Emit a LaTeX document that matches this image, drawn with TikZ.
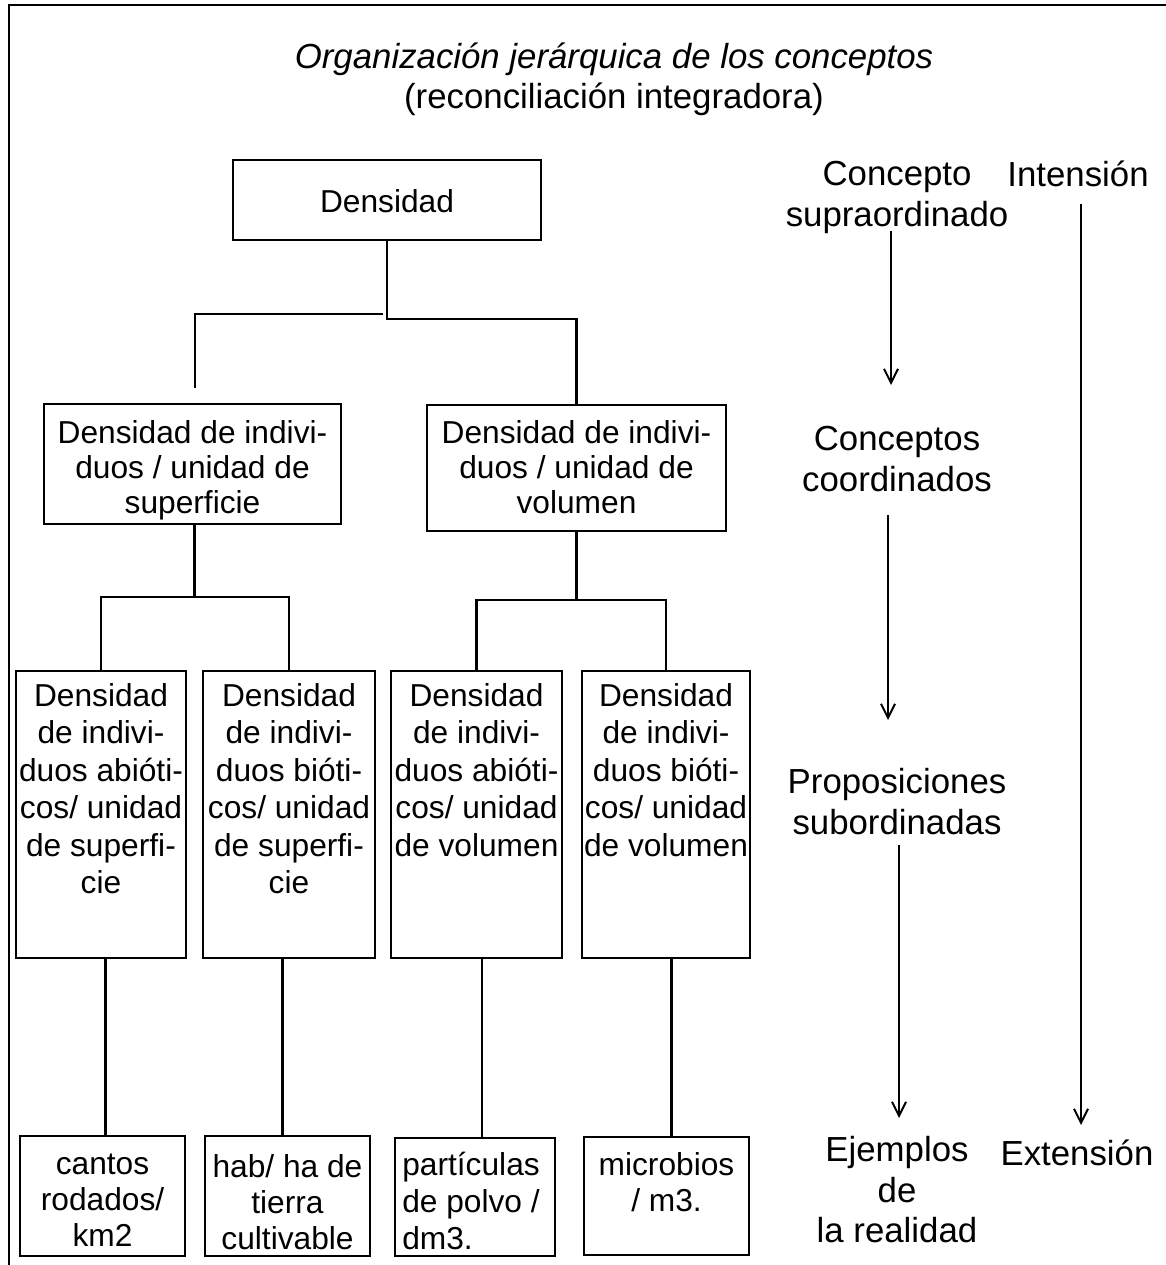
\documentclass[tikz,border=0pt]{standalone}
\usepackage{fontspec}
\setmainfont{Liberation Sans}
\usetikzlibrary{arrows.meta}
\begin{document}
\begin{tikzpicture}[x=1pt,y=-1pt,line width=2.6pt,
  bx/.style={draw,rectangle,inner sep=0pt,outer sep=0pt,line width=2.6pt},
  txt/.style={inner sep=0pt,align=center,anchor=north,font=\fontsize{31.7}{37.5}\selectfont},
  big/.style={inner sep=0pt,align=center,anchor=north,font=\fontsize{34.8}{40.5}\selectfont},
  lk/.style={line width=2.6pt},
  arr/.style={line width=2.2pt,-{Straight Barb[length=14pt,width=14pt,line width=2pt]}}]
\useasboundingbox (0,0) rectangle (1166,1265);
% frame
\draw[lk] (9,1265) -- (9,5) -- (1170,5);
% title
\node[big] (ti1) at (614,42) {\itshape Organización jerárquica de los conceptos};
\node[big] (ti2) at (614,82) {(reconciliación integradora)};
% boxes
\node[bx,minimum width=308pt,minimum height=80pt] (d0) at (387,200) {};
\node[bx,minimum width=297pt,minimum height=120pt] (s1) at (192.5,464) {};
\node[bx,minimum width=299pt,minimum height=126pt] (s2) at (576.5,468) {};
\node[bx,minimum width=170pt,minimum height=287pt] (t1) at (101,814.5) {};
\node[bx,minimum width=172pt,minimum height=287pt] (t2) at (289,814.5) {};
\node[bx,minimum width=171pt,minimum height=287pt] (t3) at (476.5,814.5) {};
\node[bx,minimum width=168pt,minimum height=287pt] (t4) at (666,814.5) {};
\node[bx,minimum width=165pt,minimum height=120pt] (e1) at (102.5,1196) {};
\node[bx,minimum width=165pt,minimum height=120pt] (e2) at (287.5,1196) {};
\node[bx,minimum width=160pt,minimum height=118pt] (e3) at (475,1197) {};
\node[bx,minimum width=165pt,minimum height=118pt] (e4) at (666.5,1196) {};
% box texts
\node[txt] (d0t) at (387,188) {Densidad};
\node[txt,font=\fontsize{31.7}{35.3}\selectfont] (s1t) at (192.5,419) {Densidad de indivi-\\duos / unidad de\\superficie};
\node[txt,font=\fontsize{31.7}{35.3}\selectfont] (s2t) at (576.5,419) {Densidad de indivi-\\duos / unidad de\\volumen};
\node[txt] (t1t) at (101,682) {Densidad\\de indivi-\\duos abióti-\\cos/ unidad\\de superfi-\\cie};
\node[txt] (t2t) at (289,682) {Densidad\\de indivi-\\duos bióti-\\cos/ unidad\\de superfi-\\cie};
\node[txt] (t3t) at (476.5,682) {Densidad\\de indivi-\\duos abióti-\\cos/ unidad\\de volumen};
\node[txt] (t4t) at (666,682) {Densidad\\de indivi-\\duos bióti-\\cos/ unidad\\de volumen};
\node[txt,font=\fontsize{31.7}{36}\selectfont] (e1t) at (102.5,1153) {cantos\\rodados/\\km2};
\node[txt,font=\fontsize{31.7}{36}\selectfont] (e2t) at (287.5,1153) {hab/ ha de\\tierra\\cultivable};
\node[txt,align=left,anchor=north west,font=\fontsize{31.7}{37}\selectfont] (e3t) at (401,1151) {partículas\\de polvo /\\dm3.};
\node[txt,font=\fontsize{31.7}{36}\selectfont] (e4t) at (666.5,1151) {microbios\\/ m3.};
% connectors
\draw[lk] (d0.south) -- ++(0,79) -| (s2.north);
\coordinate (la) at (383,314);
\coordinate (lb) at (195,314);
\coordinate (lc) at (195,388);
\draw[lk] (la) -- (lb) -- (lc);
\draw[lk] ([xshift=2pt]s1.south) -- ++(0,73);
\draw[lk] (t1.north) -- ++(0,-74) -| (t2.north);
\draw[lk] (s2.south) -- ++(0,69);
\draw[lk] (t3.north) -- ++(0,-71) -| (t4.north);
\draw[lk] ([xshift=3pt]e1.north) -- ([xshift=3pt]e1.north |- t1.south);
\draw[lk] ([xshift=-5pt]e2.north) -- ([xshift=-5pt]e2.north |- t2.south);
\draw[lk] ([xshift=7pt]e3.north) -- ([xshift=7pt]e3.north |- t3.south);
\draw[lk] ([xshift=5pt]e4.north) -- ([xshift=5pt]e4.north |- t4.south);
% right column
\node[big] (c1) at (897,160) {Concepto\\supraordinado};
\node[big] (in) at (1078,160) {Intensión};
\node[big] (c2) at (897,425) {Conceptos\\coordinados};
\node[big] (c3) at (897,767) {Proposiciones\\subordinadas};
\node[big] (c4) at (897,1135) {Ejemplos\\de\\la realidad};
\node[big] (ex) at (1077,1139) {Extensión};
\coordinate (a1s) at (891,231);
\coordinate (a1e) at (891,385);
\coordinate (a2s) at (888,515);
\coordinate (a2e) at (888,720);
\coordinate (a3s) at (899,845);
\coordinate (a3e) at (899,1118);
\coordinate (a4s) at (1081,204);
\coordinate (a4e) at (1081,1125);
\draw[arr] (a1s) -- (a1e);
\draw[arr] (a2s) -- (a2e);
\draw[arr] (a3s) -- (a3e);
\draw[arr] (a4s) -- (a4e);
\end{tikzpicture}
\end{document}
